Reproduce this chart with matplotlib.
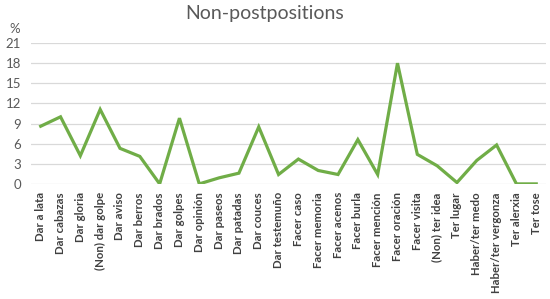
import matplotlib.pyplot as plt
import numpy as np

# categories and values (percent)
labels = ["Dar a lata", "Dar cabazas", "Dar gloria", "(Non) dar golpe", "Dar aviso",
          "Dar berros", "Dar brados", "Dar golpes", "Dar opinión", "Dar paseos",
          "Dar patadas", "Dar couces", "Dar testemuño", "Facer caso", "Facer memoria",
          "Facer acenos", "Facer burla", "Facer mención", "Facer oración", "Facer visita",
          "(Non) ter idea", "Ter lugar", "Haber/ter medo", "Haber/ter vergonza",
          "Ter alerxia", "Ter tose"]
values = [8.6, 10.0, 4.2, 11.1, 5.3, 4.1, 0.0, 9.8, 0.0, 0.9,
          1.6, 8.5, 1.4, 3.7, 2.0, 1.4, 6.6, 1.4, 18.0, 4.4,
          2.7, 0.2, 3.5, 5.8, 0.0, 0.0]
yticks = [0, 3, 6, 9, 12, 15, 18, 21]

plt.rcParams['font.family'] = ['Lato', 'DejaVu Sans']

fig = plt.figure(figsize=(5.5, 2.99), dpi=100)
ax = fig.add_axes([0.056, 0.385, 0.937, 0.471])

x = np.arange(len(labels))
ax.plot(x, values, color='#70AD47', linewidth=2.3, solid_joinstyle='miter', zorder=3)

ax.set_xlim(-0.5, len(labels) - 0.5)
ax.set_ylim(0, 21)
ax.set_yticks(yticks)
ax.set_yticklabels([str(t) for t in yticks], fontsize=9.5, color='#595959')
ax.set_xticks(x)
ax.set_xticklabels(labels, rotation=90, fontsize=8.2, color='#404040', fontweight='bold')
ax.tick_params(axis='both', length=0)
ax.tick_params(axis='x', pad=6)
ax.tick_params(axis='y', pad=7)

ax.grid(axis='y', color='#D9D9D9', linewidth=0.9)
ax.set_axisbelow(True)
for s in ax.spines.values():
    s.set_visible(False)

fig.text(0.017, 0.903, '%', fontsize=9.5, color='#595959', ha='left', va='center')
fig.text(0.481, 0.956, 'Non-postpositions', fontsize=14, color='#595959', ha='center', va='center')

fig.savefig('out.png', dpi=100)
